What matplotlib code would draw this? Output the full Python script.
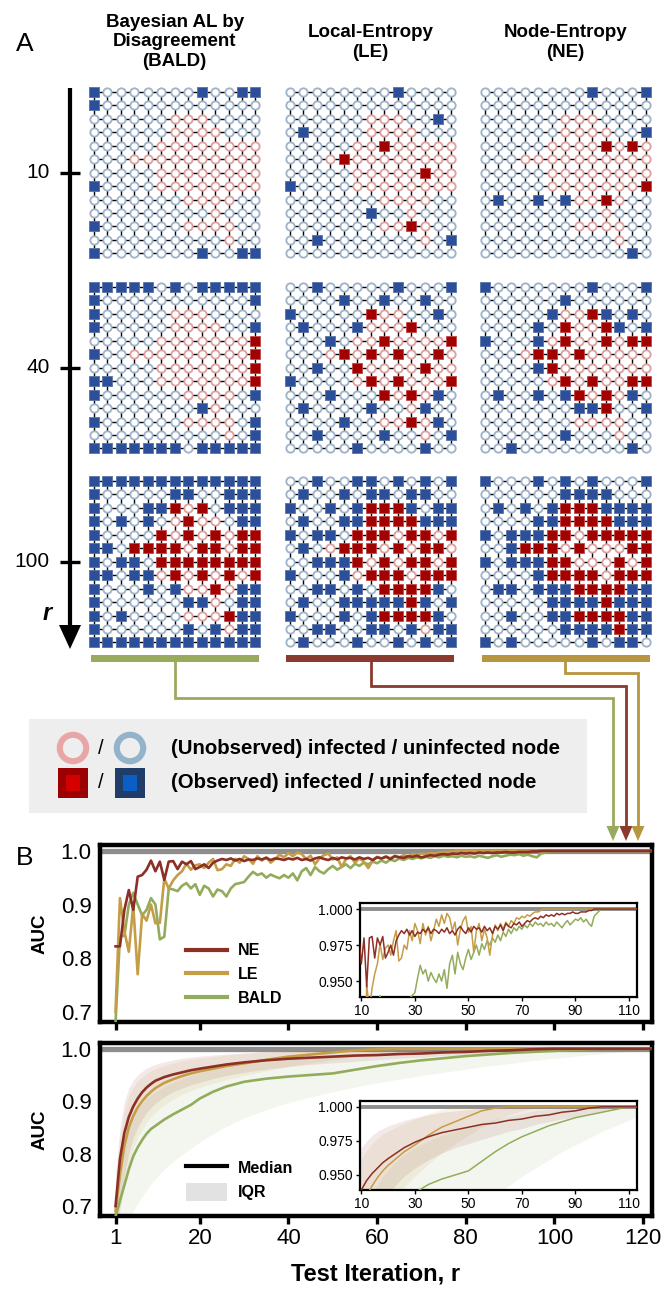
import numpy as np
import matplotlib
matplotlib.use("Agg")
import matplotlib.pyplot as plt
from matplotlib.patches import Rectangle, Circle, FancyArrow, Polygon, Patch
from matplotlib.lines import Line2D

plt.rcParams['font.family'] = ['Liberation Sans', 'DejaVu Sans']

# ---------------- data: panel A ----------------
METHODS = ["BALD", "LE", "NE"]
TITLES = ["Bayesian AL by\nDisagreement\n(BALD)", "Local-Entropy\n(LE)", "Node-Entropy\n(NE)"]
ROUNDS = [10, 40, 100]

# true infection state of the 13x13 lattice ('#' infected)
INFECTED = [
    ".............",
    ".............",
    "......###....",
    "......####...",
    ".....########",
    "...##########",
    ".....########",
    ".....########",
    ".......####..",
    ".........#...",
    ".......####..",
    "..........#..",
    ".............",
]

# observed (tested) nodes, 'x' = observed
BALD_R10 = ["x.......x..xx", "x............", ".............", ".............", ".............",
            ".............", ".............", "x............", ".............", ".............",
            "x............", ".............", "x.......x..xx"]
BALD_R40 = ["xxxxx.x.xxxxx", "x...........x", "x............", "x...........x", "............x",
            "x...........x", "............x", "xx..........x", "x...........x", "........x....",
            "x...........x", "............x", "xxxxxxx.xxxxx"]
BALD_R100 = ["xxxxxxxxxxxxx", "x.....xx..xxx", "x...xxx.x.xxx", "x.x.x..x...xx", "x....x.x.x.xx",
             "xx.xxxx.xx.xx", "x.xx.xxxxxxxx", "xx.xx.x.x.x.x", "x...x.x..x.xx", "x......xx..xx",
             "x.x.......xxx", "x......x.x.xx", "xxxxxxxxxxxxx"]
LE_R10 = ["........x....", ".............", "...........x.", ".x...........", ".......x.....",
          "....x........", "..........x..", "x............", ".............", "......x......",
          ".........x...", "..x.........x", "............."]
LE_R40 = ["..x.....x...x", "....x..x..x..", "x.....x....x.", ".x...x...x...", "...x...x....x",
          "....x.x.x..x.", "..x..x....x..", "x.....x.x...x", "...x...x.x.x.", ".x....x...x..",
          "....x....x.x.", "..x....x....x", ".....x....x.."]
LE_R100 = ["..x..xx.x.x.x", ".x..x.xx.xx..", "x..x.xxxxx.xx", ".x..xxxxxxxxx", "x.xx.xxx.xx.x",
           ".x..xxx.x.xx.", "..xxxx.x.xx.x", "x...x.xxx.xxx", "..xx.x.xxxxx.", ".x..xxxxxxx.x",
           "x...x.xxxxxx.", "..xx..xx.x.xx", ".x...x..x.x.x"]
NE_R10 = ["........x...x", ".............", ".............", "............x", ".........x.x.",
          ".............", ".............", "............x", ".x..x.x..x...", ".............",
          ".............", ".............", "...........x."]
NE_R40 = ["x.......x...x", "......x......", ".....x..xx.x.", "....x.x..xx.x", "x...x.x..x.xx",
          "....xx.x.....", "....xx.......", "......x.x..xx", ".x..x.xx.x.x.", ".......xxx..x",
          ".............", "......x......", "..x........x."]
NE_R100 = ["x...x.x.x...x", "......xxxx...", ".x.x.xxxxxxxx", "....xxxxxxxxx", "x.xxxxx.xxxxx",
           "..xxxx.x...xx", "x.xxxxx...x.x", "....xxxxx.xxx", ".xx.xxxxxxxxx", ".....xxxxxxxx",
           "..x..xxxxxxxx", "......xxxxxxx", "x.x.....x.xx."]
OBSERVED = {"BALD": [BALD_R10, BALD_R40, BALD_R100],
            "LE": [LE_R10, LE_R40, LE_R100],
            "NE": [NE_R10, NE_R40, NE_R100]}

# ---------------- data: panel B (single run, r = 1..124) ----------------
NE_RUN = [0.822, 0.822, 0.890, 0.927, 0.890, 0.952, 0.955, 0.965, 0.982, 0.962,
          0.980, 0.946, 0.980, 0.981, 0.966, 0.980, 0.975, 0.981, 0.966, 0.970,
          0.975, 0.968, 0.978, 0.982, 0.985, 0.983, 0.986, 0.982, 0.985, 0.981,
          0.984, 0.983, 0.986, 0.984, 0.987, 0.983, 0.986, 0.985, 0.983, 0.986,
          0.984, 0.987, 0.983, 0.985, 0.982, 0.986, 0.988, 0.985, 0.983, 0.987,
          0.984, 0.988, 0.986, 0.987, 0.984, 0.988, 0.985, 0.987, 0.983, 0.988,
          0.986, 0.989, 0.985, 0.990, 0.988, 0.987, 0.990, 0.989, 0.991, 0.988,
          0.990, 0.992, 0.991, 0.993, 0.994, 0.993, 0.995, 0.994, 0.996, 0.995,
          0.996, 0.995, 0.997, 0.996, 0.997, 0.996, 0.997, 0.997, 0.998, 0.997,
          0.997, 0.998, 0.998, 0.998, 0.999, 0.999, 1.000, 1.000, 1.000, 1.000,
          1.000, 1.000, 1.000, 1.000, 1.000, 1.000, 1.000, 1.000, 1.000, 1.000,
          1.000, 1.000, 1.000, 1.000, 1.000, 1.000, 1.000, 1.000, 1.000, 1.000,
          1.000, 1.000, 1.000, 1.000]
LE_RUN = [0.700, 0.912, 0.850, 0.812, 0.898, 0.770, 0.882, 0.870, 0.900, 0.865,
          0.866, 0.948, 0.930, 0.945, 0.955, 0.962, 0.976, 0.965, 0.973, 0.975,
          0.968, 0.978, 0.985, 0.964, 0.966, 0.975, 0.972, 0.985, 0.978, 0.990,
          0.985, 0.976, 0.990, 0.982, 0.988, 0.978, 0.985, 0.993, 0.988, 0.996,
          0.990, 0.997, 0.994, 0.985, 0.991, 0.975, 0.986, 0.992, 0.995, 0.984,
          0.988, 0.970, 0.985, 0.990, 0.978, 0.986, 0.980, 0.968, 0.982, 0.989,
          0.985, 0.990, 0.986, 0.991, 0.988, 0.992, 0.990, 0.994, 0.993, 0.995,
          0.994, 0.996, 0.995, 0.997, 0.998, 0.998, 0.999, 1.000, 1.000, 1.000,
          1.000, 1.000, 1.000, 1.000, 1.000, 1.000, 1.000, 1.000, 1.000, 1.000,
          1.000, 1.000, 1.000, 1.000, 1.000, 1.000, 1.000, 1.000, 1.000, 1.000,
          1.000, 1.000, 1.000, 1.000, 1.000, 1.000, 1.000, 1.000, 1.000, 1.000,
          1.000, 1.000, 1.000, 1.000, 1.000, 1.000, 1.000, 1.000, 1.000, 1.000,
          1.000, 1.000, 1.000, 1.000]
BALD_RUN = [0.680, 0.840, 0.842, 0.900, 0.922, 0.900, 0.880, 0.890, 0.912, 0.900,
            0.835, 0.840, 0.930, 0.928, 0.925, 0.935, 0.940, 0.930, 0.938, 0.918,
            0.935, 0.930, 0.915, 0.928, 0.925, 0.915, 0.930, 0.938, 0.940, 0.942,
            0.952, 0.961, 0.955, 0.958, 0.950, 0.956, 0.952, 0.949, 0.955, 0.950,
            0.958, 0.945, 0.962, 0.968, 0.955, 0.970, 0.962, 0.958, 0.966, 0.972,
            0.965, 0.970, 0.975, 0.968, 0.976, 0.972, 0.978, 0.975, 0.980, 0.977,
            0.982, 0.978, 0.984, 0.981, 0.986, 0.983, 0.987, 0.985, 0.988, 0.986,
            0.989, 0.987, 0.990, 0.988, 0.991, 0.989, 0.990, 0.988, 0.991, 0.989,
            0.990, 0.988, 0.991, 0.989, 0.987, 0.990, 0.992, 0.989, 0.991, 0.993,
            0.992, 0.994, 0.991, 0.993, 0.990, 0.988, 0.995, 0.997, 0.999, 1.000,
            1.000, 1.000, 1.000, 1.000, 1.000, 1.000, 1.000, 1.000, 1.000, 1.000,
            1.000, 1.000, 1.000, 1.000, 1.000, 1.000, 1.000, 1.000, 1.000, 1.000,
            1.000, 1.000, 1.000, 1.000]

# ---------------- data: panel B (50 outbreaks x 25 runs; median & IQR) ----------------
ITER_AGG = [1, 2, 3, 4, 5, 6, 7, 8, 9, 10, 12, 14, 16, 18, 20, 23, 26, 30, 35, 40,
            45, 50, 55, 60, 65, 70, 75, 80, 85, 90, 95, 100, 105, 110, 115, 120, 125]
NE_MED = [0.700, 0.790, 0.840, 0.870, 0.890, 0.905, 0.917, 0.926, 0.933, 0.939,
          0.946, 0.951, 0.955, 0.959, 0.962, 0.966, 0.970, 0.974, 0.978, 0.981,
          0.983, 0.985, 0.987, 0.988, 0.990, 0.991, 0.993, 0.994, 0.996, 0.997,
          0.999, 1.000, 1.000, 1.000, 1.000, 1.000, 1.000]
NE_Q1 = [0.640, 0.700, 0.760, 0.800, 0.830, 0.850, 0.865, 0.878, 0.888, 0.896,
         0.908, 0.918, 0.925, 0.931, 0.936, 0.943, 0.949, 0.955, 0.961, 0.966,
         0.970, 0.973, 0.976, 0.979, 0.982, 0.984, 0.987, 0.989, 0.991, 0.993,
         0.995, 0.997, 0.999, 1.000, 1.000, 1.000, 1.000]
NE_Q3 = [0.760, 0.850, 0.900, 0.925, 0.940, 0.950, 0.957, 0.963, 0.967, 0.970,
         0.975, 0.979, 0.982, 0.984, 0.986, 0.988, 0.990, 0.992, 0.994, 0.996,
         0.997, 0.998, 0.999, 1.000, 1.000, 1.000, 1.000, 1.000, 1.000, 1.000,
         1.000, 1.000, 1.000, 1.000, 1.000, 1.000, 1.000]
LE_MED = [0.690, 0.760, 0.815, 0.850, 0.872, 0.888, 0.900, 0.910, 0.918, 0.925,
          0.935, 0.942, 0.948, 0.953, 0.957, 0.962, 0.967, 0.972, 0.979, 0.985,
          0.989, 0.993, 0.997, 0.999, 1.000, 1.000, 1.000, 1.000, 1.000, 1.000,
          1.000, 1.000, 1.000, 1.000, 1.000, 1.000, 1.000]
LE_Q1 = [0.640, 0.690, 0.740, 0.780, 0.810, 0.830, 0.846, 0.860, 0.870, 0.879,
         0.893, 0.904, 0.913, 0.920, 0.926, 0.934, 0.941, 0.949, 0.958, 0.966,
         0.973, 0.979, 0.985, 0.990, 0.994, 0.997, 0.999, 1.000, 1.000, 1.000,
         1.000, 1.000, 1.000, 1.000, 1.000, 1.000, 1.000]
LE_Q3 = [0.740, 0.830, 0.880, 0.910, 0.927, 0.938, 0.946, 0.953, 0.958, 0.962,
         0.968, 0.973, 0.977, 0.980, 0.982, 0.985, 0.988, 0.991, 0.995, 0.998,
         1.000, 1.000, 1.000, 1.000, 1.000, 1.000, 1.000, 1.000, 1.000, 1.000,
         1.000, 1.000, 1.000, 1.000, 1.000, 1.000, 1.000]
BALD_MED = [0.680, 0.710, 0.740, 0.770, 0.795, 0.812, 0.826, 0.838, 0.847, 0.853,
            0.865, 0.875, 0.884, 0.893, 0.905, 0.918, 0.928, 0.937, 0.943, 0.947,
            0.950, 0.953, 0.960, 0.967, 0.973, 0.978, 0.982, 0.986, 0.989, 0.992,
            0.994, 0.996, 0.998, 1.000, 1.000, 1.000, 1.000]
BALD_Q1 = [0.640, 0.650, 0.660, 0.675, 0.690, 0.705, 0.718, 0.730, 0.742, 0.752,
           0.770, 0.785, 0.798, 0.810, 0.822, 0.838, 0.852, 0.868, 0.884, 0.897,
           0.908, 0.918, 0.927, 0.935, 0.942, 0.949, 0.955, 0.961, 0.967, 0.972,
           0.977, 0.982, 0.986, 0.990, 0.994, 0.997, 1.000]
BALD_Q3 = [0.720, 0.780, 0.820, 0.850, 0.870, 0.885, 0.896, 0.905, 0.912, 0.918,
           0.928, 0.936, 0.943, 0.949, 0.954, 0.960, 0.965, 0.970, 0.975, 0.979,
           0.982, 0.985, 0.988, 0.991, 0.993, 0.995, 0.997, 0.998, 0.999, 1.000,
           1.000, 1.000, 1.000, 1.000, 1.000, 1.000, 1.000]

MAIN_XTICKS = [1, 20, 40, 60, 80, 100, 120]
MAIN_YTICKS = [0.7, 0.8, 0.9, 1.0]
INSET_XTICKS = [10, 30, 50, 70, 90, 110]
INSET_YTICKS = [0.95, 0.975, 1.0]

# ---------------- styling ----------------
C = {"BALD": "#93ac5b", "LE": "#c59d47", "NE": "#8c2f24"}
BAR_COLORS = ["#99aa5e", "#8a3a2f", "#b8953f"]   # colour bars under the BALD / LE / NE columns
RING_UNINF = "#9fb3ca"
RING_INF = "#dfa0a0"
SQ_UNINF, SQ_UNINF_EDGE = "#2c4f9b", "#5873a6"
SQ_INF, SQ_INF_EDGE = "#a30000", "#c44848"

W, H = 664, 1298
fig = plt.figure(figsize=(W / 100, H / 100), dpi=100)


def px_axes(x0, y0, x1, y1, **kw):
    return fig.add_axes([x0 / W, 1 - y1 / H, (x1 - x0) / W, (y1 - y0) / H], **kw)


ov = px_axes(0, 0, W, H)
ov.set_xlim(0, W)
ov.set_ylim(H, 0)
ov.axis("off")

# ---------------- panel A ----------------
ov.text(25, 44, "A", fontsize=19, ha="center", va="center")

GRID_X0 = [94.0, 290.0, 484.5]
GRID_Y0 = [92.0, 287.0, 481.0]
STEP = 13.45
COL_CENTERS = [x + 6 * STEP for x in GRID_X0]
ROW_CENTERS = [y + 6 * STEP for y in GRID_Y0]


def draw_grid(ax, infected, observed):
    n = len(infected)
    nodes = np.arange(n)
    for k in nodes:
        ax.plot([nodes[0], nodes[-1]], [k, k], color="black", lw=1.0, zorder=1)
        ax.plot([k, k], [nodes[0], nodes[-1]], color="black", lw=1.0, zorder=1)
    groups = {}
    for r in range(n):
        for c in range(n):
            key = (infected[r][c] == "#", observed[r][c] == "x")
            groups.setdefault(key, []).append((c, r))
    styles = {
        (False, False): dict(marker="o", s=36, facecolors="white", edgecolors=RING_UNINF, linewidths=1.35),
        (True, False): dict(marker="o", s=36, facecolors="white", edgecolors=RING_INF, linewidths=1.35),
        (False, True): dict(marker="s", s=44, facecolors=SQ_UNINF, edgecolors=SQ_UNINF_EDGE, linewidths=0.6),
        (True, True): dict(marker="s", s=44, facecolors=SQ_INF, edgecolors=SQ_INF_EDGE, linewidths=0.6),
    }
    for key, pts in groups.items():
        pts = np.array(pts)
        ax.scatter(pts[:, 0], pts[:, 1], zorder=3, **styles[key])


for ci, m in enumerate(METHODS):
    for ri, rnd in enumerate(ROUNDS):
        x0, y0 = GRID_X0[ci], GRID_Y0[ri]
        ax = px_axes(x0 - 0.6 * STEP, y0 - 0.6 * STEP, x0 + 12.6 * STEP, y0 + 12.6 * STEP)
        ax.set_xlim(-0.6, 12.6)
        ax.set_ylim(12.6, -0.6)
        ax.axis("off")
        draw_grid(ax, INFECTED, OBSERVED[m][ri])
    ov.text(COL_CENTERS[ci], 42 if ci == 0 else 42.5, TITLES[ci], ha="center", va="center",
            fontsize=13.5, fontweight="bold", linespacing=1.22)

# round axis arrow
ov.add_patch(FancyArrow(70, 88, 0, 561, width=4.2, head_width=22, head_length=24,
                        length_includes_head=True, color="black", lw=0))
for rnd, yc in zip(ROUNDS, ROW_CENTERS):
    ov.plot([60, 80], [yc, yc], color="black", lw=2.4, solid_capstyle="butt")
    ov.text(50, yc, str(rnd), ha="right", va="center", fontsize=15)
ov.text(47, 614, "r", ha="center", va="center", fontsize=17, fontweight="bold", fontstyle="italic")

# colour bars and connectors
BAR_X = [(91, 259), (286, 454), (482, 650)]
DROP_Y = [698, 686, 673]
ARROW_X = [613, 626, 638]
for ci, m in enumerate(METHODS):
    bx0, bx1 = BAR_X[ci]
    ov.add_patch(Rectangle((bx0, 655), bx1 - bx0, 7, color=BAR_COLORS[ci], lw=0))
    xc = COL_CENTERS[ci]
    ov.plot([xc, xc, ARROW_X[ci], ARROW_X[ci]], [662, DROP_Y[ci], DROP_Y[ci], 827],
            color=BAR_COLORS[ci], lw=2.0, solid_joinstyle="miter")
    ov.add_patch(Polygon([[ARROW_X[ci] - 6.5, 826], [ARROW_X[ci] + 6.5, 826], [ARROW_X[ci], 841]],
                         closed=True, color=BAR_COLORS[ci], lw=0))

# legend box for node symbols
ov.add_patch(Rectangle((29, 719), 558, 94, color="#eeeeee", lw=0))
ov.add_patch(Circle((73, 748), 13.2, fill=False, ec="#e8a6a6", lw=4.4))
ov.add_patch(Circle((130, 748), 13.2, fill=False, ec="#93b3cb", lw=4.4))
ov.add_patch(Rectangle((58, 768), 30, 30, fc="#9c0000", ec="none"))
ov.add_patch(Rectangle((66, 775), 14, 16, fc="#d40000", ec="none"))
ov.add_patch(Rectangle((115, 768), 30, 30, fc="#1f3d68", ec="none"))
ov.add_patch(Rectangle((123, 775), 14, 16, fc="#0a5fc4", ec="none"))
for yy in (748, 783):
    ov.text(101, yy, "/", ha="center", va="center", fontsize=14.5)
ov.text(171, 748, "(Unobserved) infected / uninfected node", ha="left", va="center",
        fontsize=14.7, fontweight="bold")
ov.text(171, 783, "(Observed) infected / uninfected node", ha="left", va="center",
        fontsize=14.7, fontweight="bold")

# ---------------- panel B ----------------
ov.text(25, 858, "B", fontsize=19, ha="center", va="center")

AX_L, AX_R = 100, 652
axT = px_axes(AX_L, 845, AX_R, 1022)
axB = px_axes(AX_L, 1043, AX_R, 1216)
insT = px_axes(360, 903, 637, 997)
insB = px_axes(360, 1101, 637, 1190)

iters_run = np.arange(1, len(NE_RUN) + 1)
RUNS = {"BALD": BALD_RUN, "LE": LE_RUN, "NE": NE_RUN}
AGG = {"BALD": (BALD_MED, BALD_Q1, BALD_Q3), "LE": (LE_MED, LE_Q1, LE_Q3), "NE": (NE_MED, NE_Q1, NE_Q3)}
BAND_ALPHA = {"BALD": 0.10, "LE": 0.11, "NE": 0.10}
DRAW_ORDER = ["BALD", "LE", "NE"]

for ax in (axT, axB):
    ax.axhline(1.0, color="#8d8d8d", lw=3.8, zorder=1)
    ax.set_xlim(-2.5, 122)
    ax.set_ylim(0.681, 1.011)
    ax.set_xticks(MAIN_XTICKS)
    ax.set_yticks(MAIN_YTICKS)
    ax.set_yticklabels([f"{v:.1f}" for v in MAIN_YTICKS])
    for s in ax.spines.values():
        s.set_linewidth(3.2)
    ax.tick_params(axis="y", length=0, pad=6, labelsize=16)
    ax.tick_params(axis="x", length=6, width=2.4, labelsize=16, pad=3)
    ax.set_ylabel("AUC", fontsize=13.5, fontweight="bold")
    ax.yaxis.set_label_coords((49 - AX_L) / (AX_R - AX_L), 0.5)
axT.tick_params(labelbottom=False)

for ax in (insT, insB):
    ax.axhline(1.0, color="#8d8d8d", lw=2.8, zorder=1)
    ax.set_xlim(9.5, 113)
    ax.set_ylim(0.939, 1.0042)
    ax.set_xticks(INSET_XTICKS)
    ax.set_yticks(INSET_YTICKS)
    ax.set_yticklabels([f"{v:.3f}" for v in INSET_YTICKS])
    for s in ax.spines.values():
        s.set_linewidth(1.6)
    ax.tick_params(labelsize=10, length=3, width=1, pad=2)

# single-run curves
for m in DRAW_ORDER:
    axT.plot(iters_run, RUNS[m], color=C[m], lw=1.9, zorder=3)
    insT.plot(iters_run, RUNS[m], color=C[m], lw=1.1, zorder=3)

# aggregated curves
for m in DRAW_ORDER:
    med, q1, q3 = AGG[m]
    for ax, lw in ((axB, 1.9), (insB, 1.1)):
        ax.fill_between(ITER_AGG, q1, q3, color=C[m], alpha=BAND_ALPHA[m], lw=0, zorder=2)
        ax.plot(ITER_AGG, med, color=C[m], lw=lw, zorder=3)

legT = axT.legend([Line2D([], [], color=C[m], lw=3) for m in ["NE", "LE", "BALD"]],
                  ["NE", "LE", "BALD"], loc="upper left", bbox_to_anchor=(0.155, 0.445),
                  frameon=False, borderpad=0, borderaxespad=0, handlelength=2.6,
                  handletextpad=0.7, labelspacing=0.55, prop=dict(size=11.5, weight="bold"))
legB = axB.legend([Line2D([], [], color="black", lw=3),
                   Patch(facecolor="#e2e2e2", edgecolor="none")],
                  ["Median", "IQR"], loc="upper left", bbox_to_anchor=(0.155, 0.33),
                  frameon=False, borderpad=0, borderaxespad=0, handlelength=2.6, handleheight=1.4,
                  handletextpad=0.7, labelspacing=0.35, prop=dict(size=11.5, weight="bold"))

# inset titles
renderer = fig.canvas.get_renderer()


def right_text(x_right, y, parts):
    x = x_right
    for txt, kw, gap in reversed(parts):
        t = ov.text(x, y, txt, ha="right", va="baseline", **kw)
        x -= t.get_window_extent(renderer).width + gap


reg = dict(fontsize=11.5)
mono = dict(fontsize=8.5, family="DejaVu Sans Mono", fontweight="bold")
right_text(637, 895, [("1 x outbreak", reg, 0), ("(seed19450)", mono, 5), (", 1 run", reg, 0)])
right_text(637, 1090, [("50 x outbreaks, each with 25 runs", reg, 0)])

ov.text((AX_L + AX_R) / 2, 1274, "Test Iteration, r", ha="center", va="center",
        fontsize=17, fontweight="bold")

fig.savefig("out.png", dpi=100)
